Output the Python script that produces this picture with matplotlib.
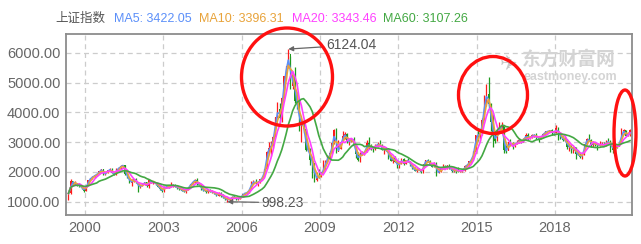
import matplotlib
matplotlib.use("Agg")
import matplotlib.pyplot as plt
from matplotlib.patches import Ellipse
import numpy as np
import pandas as pd

plt.rcParams['font.family'] = ['Liberation Sans', 'Noto Sans CJK SC', 'DejaVu Sans']

# monthly bars of the Shanghai Composite, May 1999 .. Nov 2020
start_year, start_month = 1999, 5
closes = [
    1279, 1689, 1601, 1627, 1568, 1532, 1447, 1367,
    1535, 1715, 1801, 1836, 1894, 1928, 2023, 2097, 1910, 1961, 2070, 2073,
    1959, 1907, 2112, 2119, 2214, 2218, 1920, 1834, 1642, 1690, 1747, 1646,
    1491, 1524, 1603, 1656, 1515, 1732, 1651, 1669, 1581, 1507, 1421, 1358,
    1500, 1511, 1510, 1521, 1576, 1487, 1476, 1421, 1367, 1348, 1397, 1497,
    1590, 1675, 1742, 1595, 1555, 1399, 1386, 1342, 1396, 1320, 1340, 1266,
    1191, 1306, 1181, 1159, 1060, 1080, 1083, 1162, 1155, 1092, 1099, 1161,
    1258, 1299, 1298, 1440, 1641, 1672, 1612, 1658, 1752, 1837, 2099, 2675,
    2786, 2881, 3183, 3841, 4109, 3820, 4471, 5218, 5552, 5954, 4871, 5262,
    4383, 4348, 3473, 3693, 3433, 2736, 2775, 2397, 2293, 1729, 1871, 1821,
    1991, 2082, 2373, 2477, 2633, 2959, 3412, 2667, 2779, 2996, 3195, 3277,
    2989, 3051, 3110, 2870, 2592, 2398, 2638, 2639, 2656, 2979, 2820, 2808,
    2791, 2905, 2928, 2911, 2743, 2762, 2701, 2568, 2359, 2468, 2333, 2199,
    2292, 2428, 2263, 2397, 2373, 2225, 2103, 2047, 2086, 2069, 1980, 2269,
    2385, 2366, 2237, 2178, 2301, 1979, 1994, 2098, 2175, 2141, 2220, 2116,
    2033, 2056, 2033, 2026, 2039, 2048, 2202, 2217, 2364, 2420, 2683, 3235,
    3210, 3310, 3748, 4442, 4612, 4277, 3664, 3206, 3053, 3383, 3445, 3539,
    2738, 2688, 3004, 2938, 2917, 2930, 2979, 3085, 3005, 3100, 3250, 3104,
    3159, 3242, 3223, 3155, 3117, 3192, 3273, 3361, 3349, 3393, 3317, 3307,
    3481, 3259, 3169, 3082, 3095, 2847, 2876, 2725, 2821, 2603, 2588, 2494,
    2585, 2941, 3091, 3078, 2899, 2979, 2933, 2886, 2905, 2929, 2872, 3050,
    2977, 2880, 2750, 2860, 2852, 2985, 3310, 3396, 3218, 3225, 3392,
]
highs = [
    1300, 1756, 1700, 1692, 1640, 1580, 1540, 1450,
    1540, 1730, 1810, 1850, 1900, 1940, 2030, 2114, 2090, 1975, 2075, 2125,
    2132, 1990, 2115, 2160, 2220, 2245, 2220, 1930, 1840, 1750, 1760, 1780,
    1660, 1540, 1620, 1670, 1670, 1748, 1720, 1680, 1660, 1600, 1520, 1420,
    1510, 1540, 1530, 1650, 1600, 1580, 1520, 1480, 1430, 1400, 1420, 1500,
    1600, 1700, 1760, 1783, 1600, 1560, 1440, 1400, 1430, 1420, 1390, 1350,
    1270, 1330, 1320, 1250, 1160, 1146, 1090, 1180, 1223, 1160, 1110, 1170,
    1260, 1305, 1310, 1440, 1700, 1720, 1757, 1660, 1760, 1840, 2100, 2700,
    2990, 3050, 3200, 3860, 4335, 4300, 4500, 5220, 5560, 6124.04, 5900, 5300,
    5522, 4670, 4472, 3790, 3786, 3440, 2950, 2800, 2380, 2300, 2000, 2100,
    2000, 2400, 2400, 2580, 2690, 2980, 3450, 3478, 3070, 3000, 3360, 3330,
    3310, 3070, 3140, 3180, 2890, 2670, 2660, 2700, 2700, 3060, 3186, 2930,
    2850, 2950, 3020, 3067, 2940, 2780, 2830, 2690, 2560, 2500, 2540, 2340,
    2300, 2480, 2480, 2400, 2460, 2350, 2240, 2160, 2120, 2120, 2100, 2280,
    2390, 2444, 2400, 2270, 2330, 2320, 2090, 2150, 2270, 2240, 2240, 2260,
    2120, 2110, 2070, 2150, 2060, 2060, 2220, 2250, 2370, 2420, 2700, 3240,
    3400, 3350, 3800, 4570, 4960, 5178, 4300, 4000, 3300, 3450, 3680, 3680,
    3540, 2900, 3020, 3100, 3000, 2960, 3070, 3140, 3080, 3140, 3300, 3300,
    3180, 3260, 3280, 3300, 3150, 3200, 3300, 3370, 3390, 3420, 3450, 3320,
    3587, 3500, 3340, 3220, 3220, 3110, 2920, 2920, 2830, 2830, 2720, 2640,
    2630, 2950, 3130, 3288, 3100, 3030, 3000, 2950, 3050, 3000, 3000, 3070,
    3130, 3060, 3080, 2880, 2900, 3000, 3460, 3440, 3420, 3350, 3450,
]
lows = [
    1048, 1270, 1560, 1560, 1540, 1500, 1430, 1341,
    1361, 1530, 1700, 1760, 1790, 1860, 1920, 2000, 1880, 1900, 1950, 2030,
    1950, 1890, 1900, 2070, 2110, 2150, 1900, 1800, 1630, 1514, 1660, 1620,
    1339, 1460, 1520, 1570, 1500, 1455, 1640, 1600, 1570, 1500, 1400, 1311,
    1320, 1470, 1460, 1500, 1500, 1480, 1440, 1400, 1350, 1310, 1307, 1380,
    1480, 1580, 1640, 1560, 1510, 1390, 1350, 1300, 1300, 1310, 1300, 1260,
    1180, 1200, 1170, 1130, 1040, 998.23, 1004, 1070, 1140, 1070, 1070, 1100,
    1160, 1240, 1250, 1300, 1430, 1600, 1580, 1540, 1630, 1740, 1830, 2090,
    2660, 2540, 2800, 3200, 3800, 3650, 3680, 4480, 5100, 5500, 4778, 4800,
    4300, 4100, 3357, 2990, 3300, 2690, 2700, 2240, 1800, 1665, 1680, 1800,
    1840, 1990, 2040, 2330, 2480, 2630, 2940, 2640, 2700, 2780, 3000, 3100,
    2980, 2890, 2990, 2860, 2480, 2380, 2320, 2560, 2570, 2660, 2780, 2750,
    2660, 2750, 2850, 2900, 2730, 2610, 2690, 2440, 2360, 2307, 2320, 2134,
    2132, 2270, 2240, 2250, 2330, 2200, 2090, 2040, 1999, 2060, 1970, 1949,
    2230, 2330, 2220, 2150, 2160, 1849, 1950, 1990, 2090, 2120, 2090, 2100,
    1990, 2010, 1974, 2010, 1990, 2010, 2040, 2190, 2200, 2300, 2400, 2650,
    3050, 3050, 3250, 3750, 4200, 4100, 3370, 2850, 2980, 3040, 3400, 3400,
    2640, 2640, 2740, 2920, 2780, 2840, 2940, 2960, 2970, 3000, 3100, 3070,
    3100, 3140, 3170, 3100, 3020, 3090, 3170, 3230, 3320, 3340, 3250, 3250,
    3300, 3060, 3120, 3040, 3040, 2780, 2690, 2650, 2640, 2449, 2560, 2460,
    2440, 2570, 2940, 3040, 2830, 2830, 2870, 2730, 2880, 2890, 2860, 2870,
    2960, 2680, 2650, 2730, 2800, 2870, 2960, 3290, 3200, 3200, 3200,
]
first_open = 1100
header_name = "上证指数"
ma_labels = ["MA5: 3422.05", "MA10: 3396.31", "MA20: 3343.46", "MA60: 3107.26"]
ma_windows = [2, 3, 5, 14]   # months roughly matching the weekly MAs
ma_colors = ["#5b8ff9", "#e8a33a", "#ff40ff", "#43a843"]

n = len(closes)
months = np.arange(n) + (start_month - 1)
x = start_year + (months + 0.5) / 12.0
opens = np.r_[first_open, closes[:-1]]
closes_a = np.array(closes, dtype=float)
up = closes_a >= opens

fig = plt.figure(figsize=(6.41, 2.44), dpi=100)
ax = fig.add_axes([66 / 641, 1 - 215 / 244, 566 / 641, 181 / 244])

w = 0.55 / 12
for mask, col in [(up, "#ff1a1a"), (~up, "#1f9a1f")]:
    ax.vlines(x[mask], np.array(lows)[mask], np.array(highs)[mask], color=col, lw=0.9, zorder=2)
    ax.bar(x[mask], (closes_a - opens)[mask], bottom=opens[mask], width=w, color=col, zorder=2)

s = pd.Series(closes_a)
for win, col in zip(ma_windows, ma_colors):
    ax.plot(x, s.rolling(win, min_periods=1).mean(), color=col, lw=1.2, zorder=3)

ax.set_xlim(1999.28, 2020.95)
ax.set_ylim(553, 6630)
ax.set_yticks([1000, 2000, 3000, 4000, 5000, 6000])
ax.set_yticklabels([f"{v:.2f}" for v in [1000, 2000, 3000, 4000, 5000, 6000]])
years = [2000, 2003, 2006, 2009, 2012, 2015, 2018]
ax.set_xticks(years)
ax.set_xticklabels([str(y) for y in years])
ax.tick_params(length=0, labelsize=10.5, colors="#666666", pad=4)
ax.grid(True, ls=(0, (4, 3)), color="#cccccc", lw=0.9)
for sp in ax.spines.values():
    sp.set_color("#8c8c8c")
    sp.set_linewidth(1.3)

# extreme annotations
hi = int(np.argmax(highs))
lo = int(np.argmin(lows))
ax.annotate(f"{highs[hi]:.2f}", xy=(x[hi], highs[hi]), xytext=(38, 4), textcoords="offset pixels",
            fontsize=10, color="#555555", va="center",
            arrowprops=dict(arrowstyle="-|>", color="#666666", lw=0.9, shrinkA=0, shrinkB=0,
                            mutation_scale=7))
ax.annotate(f"{lows[lo]:.2f}", xy=(x[lo], lows[lo]), xytext=(34, -1), textcoords="offset pixels",
            fontsize=10, color="#555555", va="center",
            arrowprops=dict(arrowstyle="-|>", color="#666666", lw=0.9, shrinkA=0, shrinkB=0,
                            mutation_scale=7))

# watermark
fig.text(522 / 641, 1 - 59 / 244, "东方财富网", fontsize=13.5, fontweight="bold", color="#d4d4d4",
         family=["Noto Sans CJK SC"], va="center", ha="left", zorder=0)
fig.text(524 / 641, 1 - 77 / 244, "eastmoney.com", fontsize=9, fontweight="bold", color="#d4d4d4",
         va="center", ha="left", zorder=0)
fig.text(500 / 641, 1 - 64 / 244, "✈", fontsize=15, color="#c8c8c8", va="center", ha="left",
         family=["DejaVu Sans"], zorder=1)

# header
fig.text(55 / 641, 1 - 19 / 244, header_name, fontsize=9, color="#555555", va="center")
hx = [114, 199, 292, 383]
for px, lab, col in zip(hx, ma_labels, ma_colors):
    fig.text(px / 641, 1 - 19 / 244, lab, fontsize=9, color=col, va="center")

# red marker circles
for cx, cy, ew, eh in [(287, 77, 91, 98), (493, 95, 69, 77), (625, 133, 22, 86)]:
    fig.add_artist(Ellipse((cx / 641, 1 - cy / 244), ew / 641, eh / 244, transform=fig.transFigure,
                           fill=False, ec="#ff1010", lw=2.4, zorder=10))

fig.savefig("out.png", dpi=100)
